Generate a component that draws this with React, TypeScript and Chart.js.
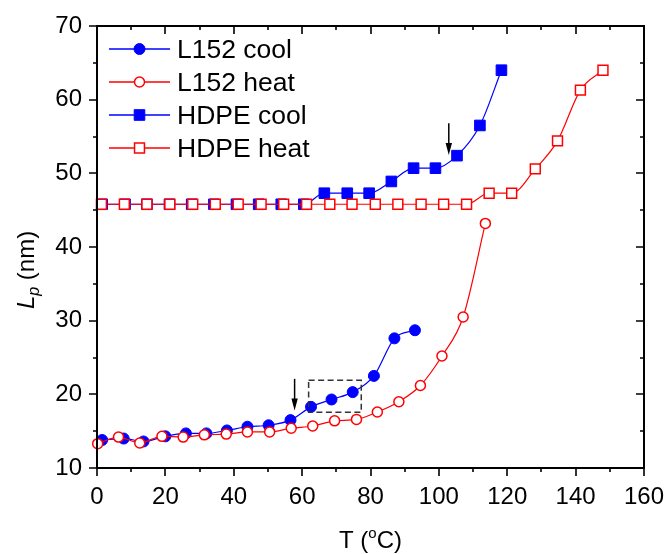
import React, { useEffect, useRef } from "react";
import { Chart, registerables } from "chart.js";

Chart.register(...registerables);

// ---- data ----
const l152CoolT = [1.5, 7.8, 13.6, 20, 26, 32, 38, 44, 50.2, 56.6, 62.6, 68.6, 74.8, 81, 87, 93];
const l152CoolLp = [13.8, 14.0, 13.6, 14.3, 14.7, 14.7, 15.1, 15.6, 15.8, 16.5, 18.3, 19.3, 20.3, 22.5, 27.6, 28.7];

const l152HeatT = [0.2, 6.3, 12.5, 19, 25.2, 31.4, 37.8, 44, 50.5, 56.8, 63.1, 69.5, 75.9, 82, 88.3, 94.6, 100.9, 107.1, 113.6];
const l152HeatLp = [13.3, 14.2, 13.4, 14.3, 14.2, 14.5, 14.6, 14.9, 14.9, 15.4, 15.7, 16.4, 16.6, 17.6, 19.0, 21.2, 25.2, 30.5, 43.2];

const hdpeCoolT = [1.5, 8.2, 14.6, 21.2, 27.7, 34.2, 40.8, 47.3, 53.9, 60.5, 66.5, 73.2, 79.6, 86.1, 92.6, 99, 105.3, 112, 118.3];
const hdpeCoolLp = [45.8, 45.8, 45.8, 45.8, 45.8, 45.8, 45.8, 45.8, 45.8, 45.8, 47.3, 47.3, 47.3, 48.9, 50.7, 50.7, 52.4, 56.5, 64.0];

const hdpeHeatT = [1.3, 8, 14.6, 21.3, 28, 34.6, 41.3, 48, 54.6, 61.3, 68.1, 74.6, 81.4, 88, 94.8, 101.4, 108.1, 114.7, 121.3, 128.2, 134.7, 141.4, 148];
const hdpeHeatLp = [45.8, 45.8, 45.8, 45.8, 45.8, 45.8, 45.8, 45.8, 45.8, 45.8, 45.8, 45.8, 45.8, 45.8, 45.8, 45.8, 45.8, 47.3, 47.3, 50.6, 54.4, 61.3, 64.0];

const seriesLabels = ["L152 cool", "L152 heat", "HDPE cool", "HDPE heat"];

const xTickValues = [0, 20, 40, 60, 80, 100, 120, 140, 160];
const yTickValues = [10, 20, 30, 40, 50, 60, 70];

// annotations (data units)
const arrowT = [57.8, 102.9];
const arrowFromLp = [22.1, 56.8];
const arrowToLp = [17.8, 52.5];
const boxT = [61.9, 77.3];
const boxLp = [17.56, 21.9];

const FONT = "'Liberation Sans', Arial, Helvetica, sans-serif";
const BLUE = "#0000FF";
const RED = "#FF0000";

const zip = (xs: number[], ys: number[]) => xs.map((x, i) => ({ x, y: ys[i] }));

function drawMarker(ctx: CanvasRenderingContext2D, style: string, x: number, y: number, r: number, fill: string, stroke: string, bw: number) {
  ctx.beginPath();
  if (style === "circle") ctx.arc(x, y, r, 0, Math.PI * 2);
  else {
    const s = r * Math.SQRT1_2;
    ctx.rect(x - s, y - s, 2 * s, 2 * s);
  }
  ctx.fillStyle = fill;
  ctx.fill();
  ctx.lineWidth = bw;
  ctx.strokeStyle = stroke;
  ctx.stroke();
}

const zeroPad = (s: any) => {
  s.paddingLeft = 0;
  s.paddingRight = 0;
  s.paddingTop = 0;
  s.paddingBottom = 0;
};

const decorPlugin = {
  id: "decor",
  afterDatasetsDraw(chart: any) {
    const { ctx, scales } = chart;
    const x = scales.x;
    const y = scales.y;
    ctx.save();
    // arrows
    ctx.strokeStyle = "#000";
    ctx.fillStyle = "#000";
    ctx.lineWidth = 1.5;
    arrowT.forEach((t, i) => {
      const px = x.getPixelForValue(t);
      const y0 = y.getPixelForValue(arrowFromLp[i]);
      const y1 = y.getPixelForValue(arrowToLp[i]);
      ctx.beginPath();
      ctx.moveTo(px, y0);
      ctx.lineTo(px, y1 - 8);
      ctx.stroke();
      ctx.beginPath();
      ctx.moveTo(px, y1);
      ctx.lineTo(px - 3.2, y1 - 12);
      ctx.lineTo(px + 3.2, y1 - 12);
      ctx.closePath();
      ctx.fill();
    });
    // dashed box
    ctx.setLineDash([6, 3.5]);
    ctx.strokeStyle = "#333";
    ctx.lineWidth = 1.5;
    const bx0 = x.getPixelForValue(boxT[0]);
    const bx1 = x.getPixelForValue(boxT[1]);
    const by0 = y.getPixelForValue(boxLp[1]);
    const by1 = y.getPixelForValue(boxLp[0]);
    ctx.strokeRect(bx0, by0, bx1 - bx0, by1 - by0);
    ctx.restore();
  },
  afterDraw(chart: any) {
    const { ctx, chartArea: a, scales } = chart;
    const x = scales.x;
    const y = scales.y;
    ctx.save();
    // frame
    ctx.strokeStyle = "#000";
    ctx.lineWidth = 2;
    ctx.strokeRect(a.left, a.top, a.right - a.left, a.bottom - a.top);
    // ticks
    ctx.lineWidth = 1.6;
    for (let v = 0; v <= 160; v += 10) {
      const px = Math.round(x.getPixelForValue(v));
      const len = v % 20 === 0 ? 8 : 4;
      ctx.beginPath();
      ctx.moveTo(px, a.bottom);
      ctx.lineTo(px, a.bottom + len);
      ctx.moveTo(px, a.top);
      ctx.lineTo(px, a.top + len);
      ctx.stroke();
    }
    for (let v = 10; v <= 70; v += 5) {
      const py = Math.round(y.getPixelForValue(v));
      const len = v % 10 === 0 ? 8 : 4;
      ctx.beginPath();
      ctx.moveTo(a.left - len, py);
      ctx.lineTo(a.left, py);
      ctx.moveTo(a.right - len, py);
      ctx.lineTo(a.right, py);
      ctx.stroke();
    }

    // x title: T (°C) with superscript o
    ctx.fillStyle = "#000";
    ctx.textBaseline = "alphabetic";
    ctx.textAlign = "left";
    const big = `24px ${FONT}`;
    const small = `15px ${FONT}`;
    ctx.font = big;
    const w1 = ctx.measureText("T (").width;
    const w3 = ctx.measureText("C)").width;
    ctx.font = small;
    const w2 = ctx.measureText("o").width;
    const tot = w1 + w2 + w3;
    const sx = (a.left + a.right) / 2 - tot / 2;
    const base = 548;
    ctx.font = big;
    ctx.fillText("T (", sx, base);
    ctx.font = small;
    ctx.fillText("o", sx + w1, base - 10);
    ctx.font = big;
    ctx.fillText("C)", sx + w1 + w2, base);

    // y title: L_p (nm)
    ctx.save();
    ctx.translate(34, 270);
    ctx.rotate(-Math.PI / 2);
    const it = `italic 24px ${FONT}`;
    const itSmall = `italic 16px ${FONT}`;
    ctx.font = it;
    const l1 = ctx.measureText("L").width;
    ctx.font = itSmall;
    const l2 = ctx.measureText("p").width;
    ctx.font = big;
    const l3 = ctx.measureText(" (nm)").width;
    const lt = l1 + l2 + l3;
    const s0 = -lt / 2;
    ctx.font = it;
    ctx.fillText("L", s0, 0);
    ctx.font = itSmall;
    ctx.fillText("p", s0 + l1, 5);
    ctx.font = big;
    ctx.fillText(" (nm)", s0 + l1 + l2, 0);
    ctx.restore();

    // legend
    const rowY0 = 49;
    const rowDy = 33;
    chart.data.datasets.forEach((ds: any, i: number) => {
      const ry = rowY0 + i * rowDy;
      ctx.beginPath();
      ctx.strokeStyle = ds.borderColor;
      ctx.lineWidth = 1.3;
      ctx.moveTo(109, ry);
      ctx.lineTo(170, ry);
      ctx.stroke();
      drawMarker(ctx, ds.pointStyle, 139.5, ry, ds.pointRadius, ds.pointBackgroundColor, ds.pointBorderColor, ds.pointBorderWidth);
      ctx.fillStyle = "#000";
      ctx.font = `26.5px ${FONT}`;
      ctx.textBaseline = "alphabetic";
      ctx.fillText(ds.label, 177, ry + 9);
    });
    ctx.restore();
  },
};

export default function App() {
  const ref = useRef<HTMLCanvasElement>(null);
  useEffect(() => {
    if (!ref.current) return;
    Chart.defaults.font.family = FONT;
    Chart.defaults.color = "#000";
    const mk = (label: string, xs: number[], ys: number[], color: string, style: string, r: number, filled: boolean, order: number) => ({
      label,
      data: zip(xs, ys),
      borderColor: color,
      backgroundColor: color,
      borderWidth: 1.2,
      pointStyle: style,
      pointRadius: r,
      pointHoverRadius: r,
      pointBackgroundColor: filled ? color : "#FFFFFF",
      pointBorderColor: color,
      pointBorderWidth: filled ? 1 : 1.5,
      cubicInterpolationMode: "monotone",
      fill: false,
      clip: false,
      order,
    });
    const chart = new Chart(ref.current, {
      type: "line",
      data: {
        datasets: [
          mk(seriesLabels[0], l152CoolT, l152CoolLp, BLUE, "circle", 5.5, true, 4),
          mk(seriesLabels[1], l152HeatT, l152HeatLp, RED, "circle", 5, false, 3),
          mk(seriesLabels[2], hdpeCoolT, hdpeCoolLp, BLUE, "rect", 7.5, true, 2),
          mk(seriesLabels[3], hdpeHeatT, hdpeHeatLp, RED, "rect", 7, false, 1),
        ] as any,
      },
      options: {
        responsive: false,
        animation: false,
        events: [],
        layout: { padding: { top: 26, right: 23, left: 0, bottom: 0 } },
        plugins: { legend: { display: false }, tooltip: { enabled: false }, title: { display: false } },
        scales: {
          x: {
            type: "linear",
            min: 0,
            max: 160,
            afterFit: (s: any) => { s.height = 86; zeroPad(s); },
            afterBuildTicks: (s: any) => { s.ticks = xTickValues.map((v) => ({ value: v })); },
            grid: { display: false, drawTicks: false },
            border: { display: false },
            ticks: { font: { size: 24, family: FONT }, color: "#000", padding: 15, maxRotation: 0, autoSkip: false },
          },
          y: {
            type: "linear",
            min: 10,
            max: 70,
            afterFit: (s: any) => { s.width = 97; zeroPad(s); },
            afterBuildTicks: (s: any) => { s.ticks = yTickValues.map((v) => ({ value: v })); },
            grid: { display: false, drawTicks: false },
            border: { display: false },
            ticks: { font: { size: 24, family: FONT }, color: "#000", padding: 15, autoSkip: false },
          },
        },
      },
      plugins: [decorPlugin],
    } as any);
    return () => chart.destroy();
  }, []);
  return (
    <div style={{ position: "absolute", left: 0, top: 0, width: 667, height: 554, background: "#fff" }}>
      <canvas ref={ref} width={667} height={554} style={{ display: "block" }} />
    </div>
  );
}
